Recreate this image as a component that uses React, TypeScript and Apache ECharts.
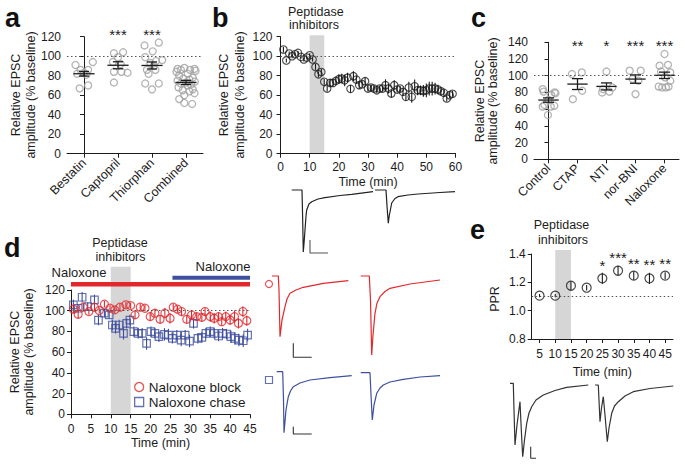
import React, { useEffect, useRef } from 'react';
import * as echarts from 'echarts';

const FONT = '"Liberation Sans", Arial, Helvetica, sans-serif';
const INK = '#1c1c1c';
const OPEN_GREY = '#a0a0a0';
const RED = '#e2282d';
const BLUE = '#3e4f9f';
const BAND_GREY = '#d6d6d6';
const CLEAR = 'rgba(0,0,0,0)';

// ---------------- panel a ----------------
const aCategories = ['Bestatin', 'Captopril', 'Thiorphan', 'Combined'];
const aBestatin = [91, 86, 86, 94, 83, 82, 81, 67, 70];
const aBestatinJitter = [-0.25, -0.1, 0.12, 0.26, 0, -0.2, 0.07, -0.13, 0.12];
const aCaptopril = [103, 104, 99, 94, 92, 84, 84, 83, 73];
const aCaptoprilJitter = [-0.12, 0.15, 0, -0.15, 0.08, -0.12, 0.1, 0.28, -0.12];
const aThiorphan = [111, 114, 105, 99, 95, 96, 93, 86, 86, 82, 72, 72, 66, 90];
const aThiorphanJitter = [-0.22, 0.2, 0.02, -0.2, 0.12, 0.3, -0.05, -0.15, 0.1, -0.1, -0.2, 0.2, 0, 0.05];
const aCombined = [88, 87, 87, 86, 86, 85, 84, 82, 80, 78, 77, 76, 75, 74, 73, 72, 71, 70, 68, 66, 65, 64, 62, 60, 56, 52, 51];
const aCombinedJitter = [-0.05, -0.25, 0.25, 0.12, -0.15, 0.28, -0.28, 0.05, -0.2, 0.2, -0.08, 0.1, -0.25, 0.26, 0, -0.15, 0.15, 0.05, -0.22, 0.2, -0.1, 0.1, 0.25, -0.05, -0.2, -0.05, 0.18];
const aMeans = [82, 90.7, 90.5, 73.1];
const aSems = [2.4, 3.6, 3.6, 2.1];
const aStars = ['', '***', '***', ''];
const aTicks = [0, 120, 20];

// ---------------- panel b ----------------
const bTime = Array.from({ length: 59 }, (_, i) => i + 1);
const bValues = [106.8, 95.6, 102.7, 100, 102, 103.4, 99.3, 96.6, 98.6, 101, 96.6, 89, 81.4, 83.8, 73.7, 66.8, 72.6, 72.6, 74.7, 76.4, 77, 75.3, 78, 66.5, 79.5, 76, 70.3, 71.3, 74.4, 66.8, 67.9, 66.8, 65, 66.8, 66.8, 70.3, 66.8, 61.7, 70.3, 65.8, 66.8, 63.4, 58.3, 67.9, 58.3, 69.2, 65, 65, 64.4, 65, 66.8, 66.8, 66.8, 65.8, 64, 62.4, 56.6, 60, 61.5];
const bSem = [3, 2, 2, 2, 2, 2, 2, 2, 2, 2, 2, 3, 3, 3, 3, 3, 4, 4, 4, 5, 5, 6, 5, 4, 5, 4, 4, 3, 4, 3, 3, 3, 3, 3, 3, 6, 5, 4, 5, 3, 3, 4, 4, 6, 6, 7, 5, 5, 6, 7, 7, 7, 6, 5, 4, 3, 3, 3, 3];
const bBand = [10, 15];
const bTicks = [0, 60, 10];

// ---------------- panel c ----------------
const cCategories = ['Control', 'CTAP', 'NTI', 'nor-BNI', 'Naloxone'];
const cControl = [84, 81, 80, 79, 77, 71, 65, 63, 64, 63, 53];
const cControlJitter = [-0.2, -0.17, 0.21, 0.24, 0.09, 0, -0.14, -0.2, 0.2, 0.08, -0.02];
const cCTAP = [102, 104, 82, 72];
const cCTAPJitter = [-0.19, 0.15, 0.16, -0.16];
const cNTI = [105, 86, 84, 81, 80];
const cNTIJitter = [0, 0.2, -0.12, 0.1, -0.15];
const cNorBNI = [106, 106, 96, 94, 78];
const cNorBNIJitter = [-0.2, 0.18, -0.1, 0.1, 0];
const cNaloxone = [126, 112, 113, 105, 104, 98, 94, 87, 86, 86, 87];
const cNaloxoneJitter = [0, -0.17, 0.12, -0.12, 0.2, 0.02, 0.2, -0.2, 0.05, -0.08, 0.14];
const cMeans = [70.9, 90, 87.2, 96, 100.5];
const cSems = [2.6, 6.5, 4.2, 5, 3.8];
const cStars = ['', '**', '*', '***', '***'];

// ---------------- panel d ----------------
const dBlockTime = [0.6, 1.8, 3.1, 4.5, 5.9, 7.1, 8.4, 9.8, 11, 12.3, 13.8, 15, 16.1, 17.4, 18.6, 19.9, 21.1, 22.4, 23.6, 24.9, 25.7, 26.8, 27.8, 29.1, 30.3, 31.6, 32.9, 33.7, 35, 36, 37.1, 37.9, 38.9, 40, 41.1, 42.1, 43.2, 44.2];
const dBlockValues = [101.5, 96.6, 103.4, 99.2, 103.4, 100.2, 106.3, 102.4, 100.8, 103.4, 105.7, 105, 96, 103.4, 102.4, 94.3, 97.6, 91.7, 97.6, 92.7, 103.4, 101.5, 99.2, 91.7, 95.9, 94.3, 93.6, 99.2, 94.3, 92.7, 94.3, 89.4, 94.3, 91.1, 94.3, 87.8, 99.2, 90.4];
const dBlockSem = [4, 4, 3, 3, 4, 3, 3, 3, 3, 3, 3, 3, 4, 3, 3, 4, 4, 4, 5, 5, 3, 3, 4, 4, 4, 4, 4, 4, 5, 5, 4, 4, 5, 5, 6, 5, 5, 5];
const dChaseTime = [0.6, 1.8, 2.8, 4.2, 5.9, 6.9, 8.4, 9.6, 10.4, 11.2, 12.1, 13.2, 14, 14.8, 15.8, 16.9, 17.9, 19, 20.1, 21.1, 22.1, 23.5, 24.5, 25.5, 26.6, 27.7, 28.7, 29.8, 30.8, 31.9, 32.9, 33.9, 35, 36, 37.1, 38.1, 39.1, 40.2, 41.2, 42.2, 43.3, 44.4];
const dChaseValues = [105.7, 102.4, 113, 104, 110.5, 91, 97.6, 96, 86.2, 83, 86.2, 78.2, 87.8, 91, 79.8, 78.2, 78.2, 68.4, 79.8, 78.2, 74.9, 77.2, 76.5, 73.3, 76.5, 71.7, 76.5, 70.7, 87.8, 73.3, 74.3, 78.2, 79.8, 78.2, 75.6, 78.2, 77.5, 74.9, 73.3, 71.7, 71, 76.5];
const dChaseSem = [5, 4, 5, 4, 5, 5, 4, 4, 5, 5, 5, 6, 5, 5, 5, 5, 5, 6, 5, 5, 5, 6, 6, 5, 5, 6, 5, 6, 5, 5, 5, 5, 5, 5, 5, 5, 5, 6, 6, 6, 6, 6];
const dBand = [10, 15];
const dBlockBar = [0, 45, 125.5];
const dChaseBar = [25.5, 45, 131.9];

// ---------------- panel e ----------------
const eCategories = ['5', '10', '15', '20', '25', '30', '35', '40', '45'];
const eValues = [1.106, 1.106, 1.176, 1.162, 1.228, 1.282, 1.247, 1.228, 1.247];
const eSem = [0.012, 0.012, 0.03, 0.02, 0.04, 0.035, 0.03, 0.04, 0.025];
const eStars = ['', '', '', '', '*', '***', '**', '**', '**'];
const eBand = ['10', '15'];

// ---------------- example traces (ms, pA; arbitrary units) ----------------
const traceB1 = [[1.7, -4], [12, -4], [12.6, -30], [13.3, -66], [14.2, -55], [15, -44], [16, -30], [16.7, -24], [19, -18], [21.7, -15.7], [28, -13], [35, -11.7], [50, -9.5], [61.7, -8.3], [83, -5.7]];
const traceB2 = [[85, -4], [96, -4], [97, -20], [98.3, -37.3], [99.2, -30], [100, -26], [101.7, -17], [105, -12.5], [108, -10.7], [118, -9], [128, -8], [150, -6.5], [165, -5.7]];
const scaleB = [[20, -54], [20, -67], [38, -67]];
const traceRed1 = [[7, -6], [13.3, -6], [14, -20], [15, -66.7], [17, -50], [20, -36.7], [22, -29], [25, -23.3], [31, -20], [38.3, -17.3], [58.3, -13.3], [83.3, -10.7]];
const traceRed2 = [[95.7, -6], [104.3, -6], [105.5, -30], [106.7, -85], [108, -65], [110, -43.3], [112, -33], [115, -26.7], [120, -21.5], [125, -18.3], [145, -14], [175, -10]];
const scaleRed = [[28.3, -73.3], [28.3, -87.3], [46.7, -87.3]];
const markRed = [[4, -14]];
const traceBlue1 = [[11.7, -6.7], [17.7, -6.7], [18.5, -35], [19, -67.7], [21, -45], [23.3, -31.7], [25.5, -26], [28.3, -21.7], [35, -18], [45, -15], [65, -12.7], [86.7, -10.7]];
const traceBlue2 = [[95.7, -7.7], [105, -7.7], [106, -30], [107.3, -55], [109, -40], [111.7, -28.3], [115, -23], [118.3, -20], [125, -17], [138.3, -14.3], [155, -12], [175, -10.7]];
const scaleBlue = [[28.3, -61.7], [28.3, -69], [46.7, -69]];
const markBlue = [[4, -15]];
const traceE1 = [[5, -5.3], [8.3, -5.3], [9, -32], [10, -67], [12, -47], [15, -23.7], [16.3, -52], [17.7, -78.7], [19.5, -62], [21.7, -45.3], [24, -35], [26.7, -28.7], [31, -22], [38.3, -17], [50, -12.5], [61.7, -9.3], [83.3, -7]];
const traceE2 = [[90, -7], [93.3, -7], [94, -22], [95, -43.7], [96.5, -30], [98.3, -18.7], [100, -37], [102.3, -63.7], [104, -50], [106.7, -35.3], [109.5, -28], [113.3, -23.7], [120, -18], [128.3, -13.7], [145, -10.5], [168.3, -8]];
const scaleE = [[25.7, -68.7], [25.7, -80.3], [31, -80.3]];

// ---------------- layout ----------------
const GA = { left: 67, top: 36.7, width: 136, height: 117 };
const GB = { left: 280.5, top: 36.7, width: 175, height: 117 };
const GC = { left: 534, top: 42.3, width: 145, height: 117 };
const GD = { left: 71, top: 290, width: 179, height: 124.3 };
const GE = { left: 531.7, top: 254, width: 141.3, height: 85 };
const GTB = { left: 290, top: 186, width: 170, height: 70 };
const GTR = { left: 265, top: 270, width: 185, height: 90 };
const GTBl = { left: 265, top: 365, width: 185, height: 75 };
const GTE = { left: 505, top: 378, width: 175, height: 85 };

const TICK_FS = 12;

function jittered(groups: number[][], jitters: number[][]) {
  const out: number[][] = [];
  groups.forEach((g, i) => g.forEach((v, j) => out.push([i + jitters[i][j], v])));
  return out;
}

const capErr = (lineFrac: number, capFrac: number) => (_p: any, api: any) => {
  const x = api.value(0);
  const m = api.value(1);
  const s = api.value(2);
  const c = api.coord([x, m]);
  const hi = api.coord([x, m + s]);
  const lo = api.coord([x, m - s]);
  const bw = api.size([1, 0])[0];
  const half = (bw * lineFrac) / 2;
  const cap = (bw * capFrac) / 2;
  const st = { stroke: INK, lineWidth: 1.3 };
  return {
    type: 'group',
    children: [
      { type: 'line', shape: { x1: c[0] - half, y1: c[1], x2: c[0] + half, y2: c[1] }, style: st },
      { type: 'line', shape: { x1: c[0], y1: hi[1], x2: c[0], y2: lo[1] }, style: st },
      { type: 'line', shape: { x1: c[0] - cap, y1: hi[1], x2: c[0] + cap, y2: hi[1] }, style: st },
      { type: 'line', shape: { x1: c[0] - cap, y1: lo[1], x2: c[0] + cap, y2: lo[1] }, style: st },
    ],
  };
};

const vErr = (color: string) => (_p: any, api: any) => {
  const x = api.value(0);
  const m = api.value(1);
  const s = api.value(2);
  const hi = api.coord([x, m + s]);
  const lo = api.coord([x, m - s]);
  return { type: 'line', shape: { x1: hi[0], y1: hi[1], x2: lo[0], y2: lo[1] }, style: { stroke: color, lineWidth: 1.1 } };
};

const bandRender = (_p: any, api: any) => {
  const a = api.coord([api.value(0), api.value(2)]);
  const b = api.coord([api.value(1), api.value(3)]);
  return { type: 'rect', shape: { x: a[0], y: a[1], width: b[0] - a[0], height: b[1] - a[1] }, style: { fill: BAND_GREY } };
};

const dotted = (y: number) => ({
  silent: true,
  symbol: ['none', 'none'],
  label: { show: false },
  lineStyle: { type: [1.5, 2.5], color: '#555', width: 1.2 },
  data: [{ yAxis: y }],
});

const axisCommon = {
  axisLine: { show: true, lineStyle: { color: INK, width: 1 } },
  axisTick: { show: true, length: 4, lineStyle: { color: INK, width: 1 } },
  splitLine: { show: false },
};

const yAxis = (gridIndex: number, min: number, max: number, interval: number, extra: any = {}) => ({
  type: 'value',
  gridIndex,
  min,
  max,
  interval,
  ...axisCommon,
  axisLabel: { color: INK, fontSize: TICK_FS, fontFamily: FONT, margin: 6, ...(extra.axisLabel || {}) },
  ...(extra.rest || {}),
});

const hidden = (gridIndex: number, min: number, max: number) => ({ type: 'value', gridIndex, min, max, show: false, splitLine: { show: false } });

const catAxis = (gridIndex: number, data: string[], rotate: number, margin: number) => ({
  type: 'category',
  gridIndex,
  data,
  ...axisCommon,
  axisTick: { show: true, length: 4, alignWithLabel: true, lineStyle: { color: INK, width: 1 } },
  axisLabel: { color: INK, fontSize: 12.5, fontFamily: FONT, rotate, margin, interval: 0 },
});

const timeName = (gap: number) => ({
  name: 'Time (min)',
  nameLocation: 'middle',
  nameGap: gap,
  nameTextStyle: { color: INK, fontSize: 12.5, fontFamily: FONT },
});

const traceLine = (xi: number, yi: number, data: number[][], color: string, width = 1.2) => ({
  type: 'line',
  xAxisIndex: xi,
  yAxisIndex: yi,
  data,
  symbol: 'none',
  silent: true,
  clip: false,
  lineStyle: { color, width },
  z: 5,
});

const txt = (text: string, x: number, y: number, style: any = {}, rotation = 0) => ({
  type: 'text',
  x,
  y,
  rotation,
  silent: true,
  z: 60,
  style: { text, fill: INK, fontSize: 12.5, fontFamily: FONT, align: 'center', verticalAlign: 'middle', ...style },
});

function buildOption(): any {
  const starTexts: any[] = [];
  aStars.forEach((s, i) => {
    if (s) starTexts.push(txt(s, GA.left + (GA.width * (i + 0.5)) / aStars.length, 34, { fontSize: 15 }));
  });
  cStars.forEach((s, i) => {
    if (s) starTexts.push(txt(s, GC.left + (GC.width * (i + 0.5)) / cStars.length, 45, { fontSize: 15 }));
  });
  const eStarY = [0, 0, 0, 0, 265, 257, 263, 264, 263];
  eStars.forEach((s, i) => {
    if (s) starTexts.push(txt(s, GE.left + (GE.width * (i + 0.5)) / eStars.length, eStarY[i], { fontSize: 15 }));
  });

  const letter = (t: string, x: number, y: number) => txt(t, x, y, { fontSize: 27, fontWeight: 'bold', align: 'left', fill: '#111' });
  const R = Math.PI / 2;

  return {
    animation: false,
    backgroundColor: '#ffffff',
    textStyle: { fontFamily: FONT },
    grid: [GA, GB, GC, GD, GE, GTB, GTR, GTBl, GTE].map((g) => ({ ...g, containLabel: false })),
    xAxis: [
      catAxis(0, aCategories, 45, 7),
      hidden(0, -0.5, aCategories.length - 0.5),
      {
        type: 'value', gridIndex: 1, min: bTicks[0], max: bTicks[1], interval: bTicks[2], ...axisCommon,
        axisLabel: { color: INK, fontSize: TICK_FS, fontFamily: FONT, margin: 7 }, ...timeName(22),
      },
      catAxis(2, cCategories, 45, 7),
      hidden(2, -0.5, cCategories.length - 0.5),
      {
        type: 'value', gridIndex: 3, min: 0, max: 45, interval: 5, ...axisCommon,
        axisLabel: { color: INK, fontSize: TICK_FS, fontFamily: FONT, margin: 9 }, ...timeName(22),
      },
      { ...catAxis(4, eCategories, 0, 9), axisLabel: { color: INK, fontSize: TICK_FS, fontFamily: FONT, margin: 9, interval: 0 }, ...timeName(26) },
      hidden(5, 0, GTB.width),
      hidden(6, 0, GTR.width),
      hidden(7, 0, GTBl.width),
      hidden(8, 0, GTE.width),
    ],
    yAxis: [
      yAxis(0, aTicks[0], aTicks[1], aTicks[2]),
      { ...yAxis(1, 0, 120, 20), offset: 2 },
      yAxis(2, 0, 140, 20),
      yAxis(3, 0, 120, 20),
      yAxis(4, 0.8, 1.4, 0.2, { axisLabel: { formatter: (v: number) => v.toFixed(1) } }),
      hidden(5, -GTB.height, 0),
      hidden(6, -GTR.height, 0),
      hidden(7, -GTBl.height, 0),
      hidden(8, -GTE.height, 0),
    ],
    legend: {
      show: true,
      left: 134,
      top: 380,
      orient: 'vertical',
      itemGap: 1,
      itemWidth: 9,
      itemHeight: 9,
      selectedMode: false,
      padding: 0,
      textStyle: { color: INK, fontSize: 13.5, fontFamily: FONT, padding: [0, 0, 0, 0] },
      data: [
        { name: 'Naloxone block', icon: 'circle', itemStyle: { color: CLEAR, borderColor: RED, borderWidth: 1.3 } },
        { name: 'Naloxone chase', icon: 'rect', itemStyle: { color: CLEAR, borderColor: BLUE, borderWidth: 1.3 } },
      ],
    },
    series: [
      // ---- a ----
      {
        type: 'scatter', xAxisIndex: 1, yAxisIndex: 0, symbol: 'circle', symbolSize: 7, z: 2,
        itemStyle: { color: CLEAR, borderColor: OPEN_GREY, borderWidth: 1.3 },
        data: jittered([aBestatin, aCaptopril, aThiorphan, aCombined], [aBestatinJitter, aCaptoprilJitter, aThiorphanJitter, aCombinedJitter]),
        markLine: dotted(100),
      },
      {
        type: 'custom', xAxisIndex: 0, yAxisIndex: 0, z: 4, renderItem: capErr(0.62, 0.3),
        data: aMeans.map((m, i) => [aCategories[i], m, aSems[i]]),
      },
      // ---- b ----
      { type: 'custom', xAxisIndex: 2, yAxisIndex: 1, z: 0, renderItem: bandRender, data: [[bBand[0], bBand[1], 121.5, 0]] },
      { type: 'custom', xAxisIndex: 2, yAxisIndex: 1, z: 2, renderItem: vErr(INK), data: bTime.map((t, i) => [t, bValues[i], bSem[i]]) },
      {
        type: 'scatter', xAxisIndex: 2, yAxisIndex: 1, symbol: 'circle', symbolSize: 7.5, z: 3,
        itemStyle: { color: CLEAR, borderColor: INK, borderWidth: 1.1 },
        data: bTime.map((t, i) => [t, bValues[i]]),
        markLine: dotted(100),
      },
      // ---- c ----
      {
        type: 'scatter', xAxisIndex: 4, yAxisIndex: 2, symbol: 'circle', symbolSize: 7, z: 2,
        itemStyle: { color: CLEAR, borderColor: OPEN_GREY, borderWidth: 1.3 },
        data: jittered([cControl, cCTAP, cNTI, cNorBNI, cNaloxone], [cControlJitter, cCTAPJitter, cNTIJitter, cNorBNIJitter, cNaloxoneJitter]),
        markLine: dotted(100),
      },
      {
        type: 'custom', xAxisIndex: 3, yAxisIndex: 2, z: 4, renderItem: capErr(0.7, 0.38),
        data: cMeans.map((m, i) => [cCategories[i], m, cSems[i]]),
      },
      // ---- d ----
      { type: 'custom', xAxisIndex: 5, yAxisIndex: 3, z: 0, renderItem: bandRender, data: [[dBand[0], dBand[1], 142.5, 0]] },
      {
        type: 'line', xAxisIndex: 5, yAxisIndex: 3, clip: false, symbol: 'none', silent: true, z: 6,
        lineStyle: { color: RED, width: 4.5 }, data: [[dBlockBar[0], dBlockBar[2]], [dBlockBar[1], dBlockBar[2]]],
      },
      {
        type: 'line', xAxisIndex: 5, yAxisIndex: 3, clip: false, symbol: 'none', silent: true, z: 6,
        lineStyle: { color: BLUE, width: 4 }, data: [[dChaseBar[0], dChaseBar[2]], [dChaseBar[1], dChaseBar[2]]],
      },
      { type: 'custom', xAxisIndex: 5, yAxisIndex: 3, z: 2, renderItem: vErr(BLUE), data: dChaseTime.map((t, i) => [t, dChaseValues[i], dChaseSem[i]]) },
      { type: 'custom', xAxisIndex: 5, yAxisIndex: 3, z: 2, renderItem: vErr(RED), data: dBlockTime.map((t, i) => [t, dBlockValues[i], dBlockSem[i]]) },
      {
        name: 'Naloxone chase', type: 'scatter', xAxisIndex: 5, yAxisIndex: 3, symbol: 'rect', symbolSize: 7.5, z: 3,
        itemStyle: { color: CLEAR, borderColor: BLUE, borderWidth: 1.2 },
        data: dChaseTime.map((t, i) => [t, dChaseValues[i]]),
      },
      {
        name: 'Naloxone block', type: 'scatter', xAxisIndex: 5, yAxisIndex: 3, symbol: 'circle', symbolSize: 8, z: 3,
        itemStyle: { color: CLEAR, borderColor: RED, borderWidth: 1.2 },
        data: dBlockTime.map((t, i) => [t, dBlockValues[i]]),
        markLine: dotted(100),
      },
      // ---- e ----
      {
        type: 'custom', xAxisIndex: 6, yAxisIndex: 4, z: 0, renderItem: bandRender,
        data: [[eCategories.indexOf(eBand[0]), eCategories.indexOf(eBand[1]), 1.428, 0.8]],
      },
      { type: 'custom', xAxisIndex: 6, yAxisIndex: 4, z: 2, renderItem: vErr(INK), data: eCategories.map((c, i) => [c, eValues[i], eSem[i]]) },
      {
        type: 'scatter', xAxisIndex: 6, yAxisIndex: 4, symbol: 'circle', symbolSize: 9, z: 3,
        itemStyle: { color: CLEAR, borderColor: INK, borderWidth: 1.2 },
        data: eCategories.map((c, i) => [c, eValues[i]]),
        markLine: dotted(1.1),
      },
      // ---- traces ----
      traceLine(7, 5, traceB1, '#222'),
      traceLine(7, 5, traceB2, '#222'),
      traceLine(7, 5, scaleB, '#555', 1.1),
      traceLine(8, 6, traceRed1, RED),
      traceLine(8, 6, traceRed2, RED),
      traceLine(8, 6, scaleRed, '#333', 1.1),
      traceLine(9, 7, traceBlue1, BLUE),
      traceLine(9, 7, traceBlue2, BLUE),
      traceLine(9, 7, scaleBlue, '#333', 1.1),
      traceLine(10, 8, traceE1, '#333'),
      traceLine(10, 8, traceE2, '#333'),
      traceLine(10, 8, scaleE, '#333', 1.1),
      {
        type: 'scatter', xAxisIndex: 8, yAxisIndex: 6, symbol: 'circle', symbolSize: 7, silent: true, clip: false,
        itemStyle: { color: CLEAR, borderColor: RED, borderWidth: 1.2 }, data: markRed,
      },
      {
        type: 'scatter', xAxisIndex: 9, yAxisIndex: 7, symbol: 'rect', symbolSize: 7, silent: true, clip: false,
        itemStyle: { color: CLEAR, borderColor: BLUE, borderWidth: 1.2 }, data: markBlue,
      },
    ],
    graphic: [
      letter('a', 5, 18),
      letter('b', 212, 18),
      letter('c', 471, 18),
      letter('d', 4, 248),
      letter('e', 470, 230),
      // y-axis titles
      txt('Relative EPSC', 15.5, 95, {}, R),
      txt('amplitude (% baseline)', 30.5, 95, {}, R),
      txt('Relative EPSC', 224, 95, {}, R),
      txt('amplitude (% baseline)', 239.5, 95, {}, R),
      txt('Relative EPSC', 480, 101, {}, R),
      txt('amplitude (% baseline)', 493, 101, {}, R),
      txt('Relative EPSC', 15, 352, {}, R),
      txt('amplitude (% baseline)', 29, 352, {}, R),
      txt('PPR', 495, 299, {}, R),
      // annotations
      txt('Peptidase', 288, 12, { align: 'left' }),
      txt('inhibitors', 289, 25, { align: 'left' }),
      txt('Peptidase', 120, 243),
      txt('inhibitors', 120.5, 257),
      txt('Naloxone', 79, 272.5, { fontSize: 13 }),
      txt('Naloxone', 223, 266.5, { fontSize: 13 }),
      txt('Peptidase', 561.5, 225),
      txt('inhibitors', 563, 240),
      ...starTexts,
    ],
  };
}

export default function App() {
  const ref = useRef<HTMLDivElement>(null);
  useEffect(() => {
    if (!ref.current) return;
    const chart = echarts.init(ref.current, null, { renderer: 'svg' });
    chart.setOption(buildOption());
    return () => chart.dispose();
  }, []);
  return <div ref={ref} style={{ position: 'absolute', left: 0, top: 0, width: 685, height: 466, background: '#fff' }} />;
}
